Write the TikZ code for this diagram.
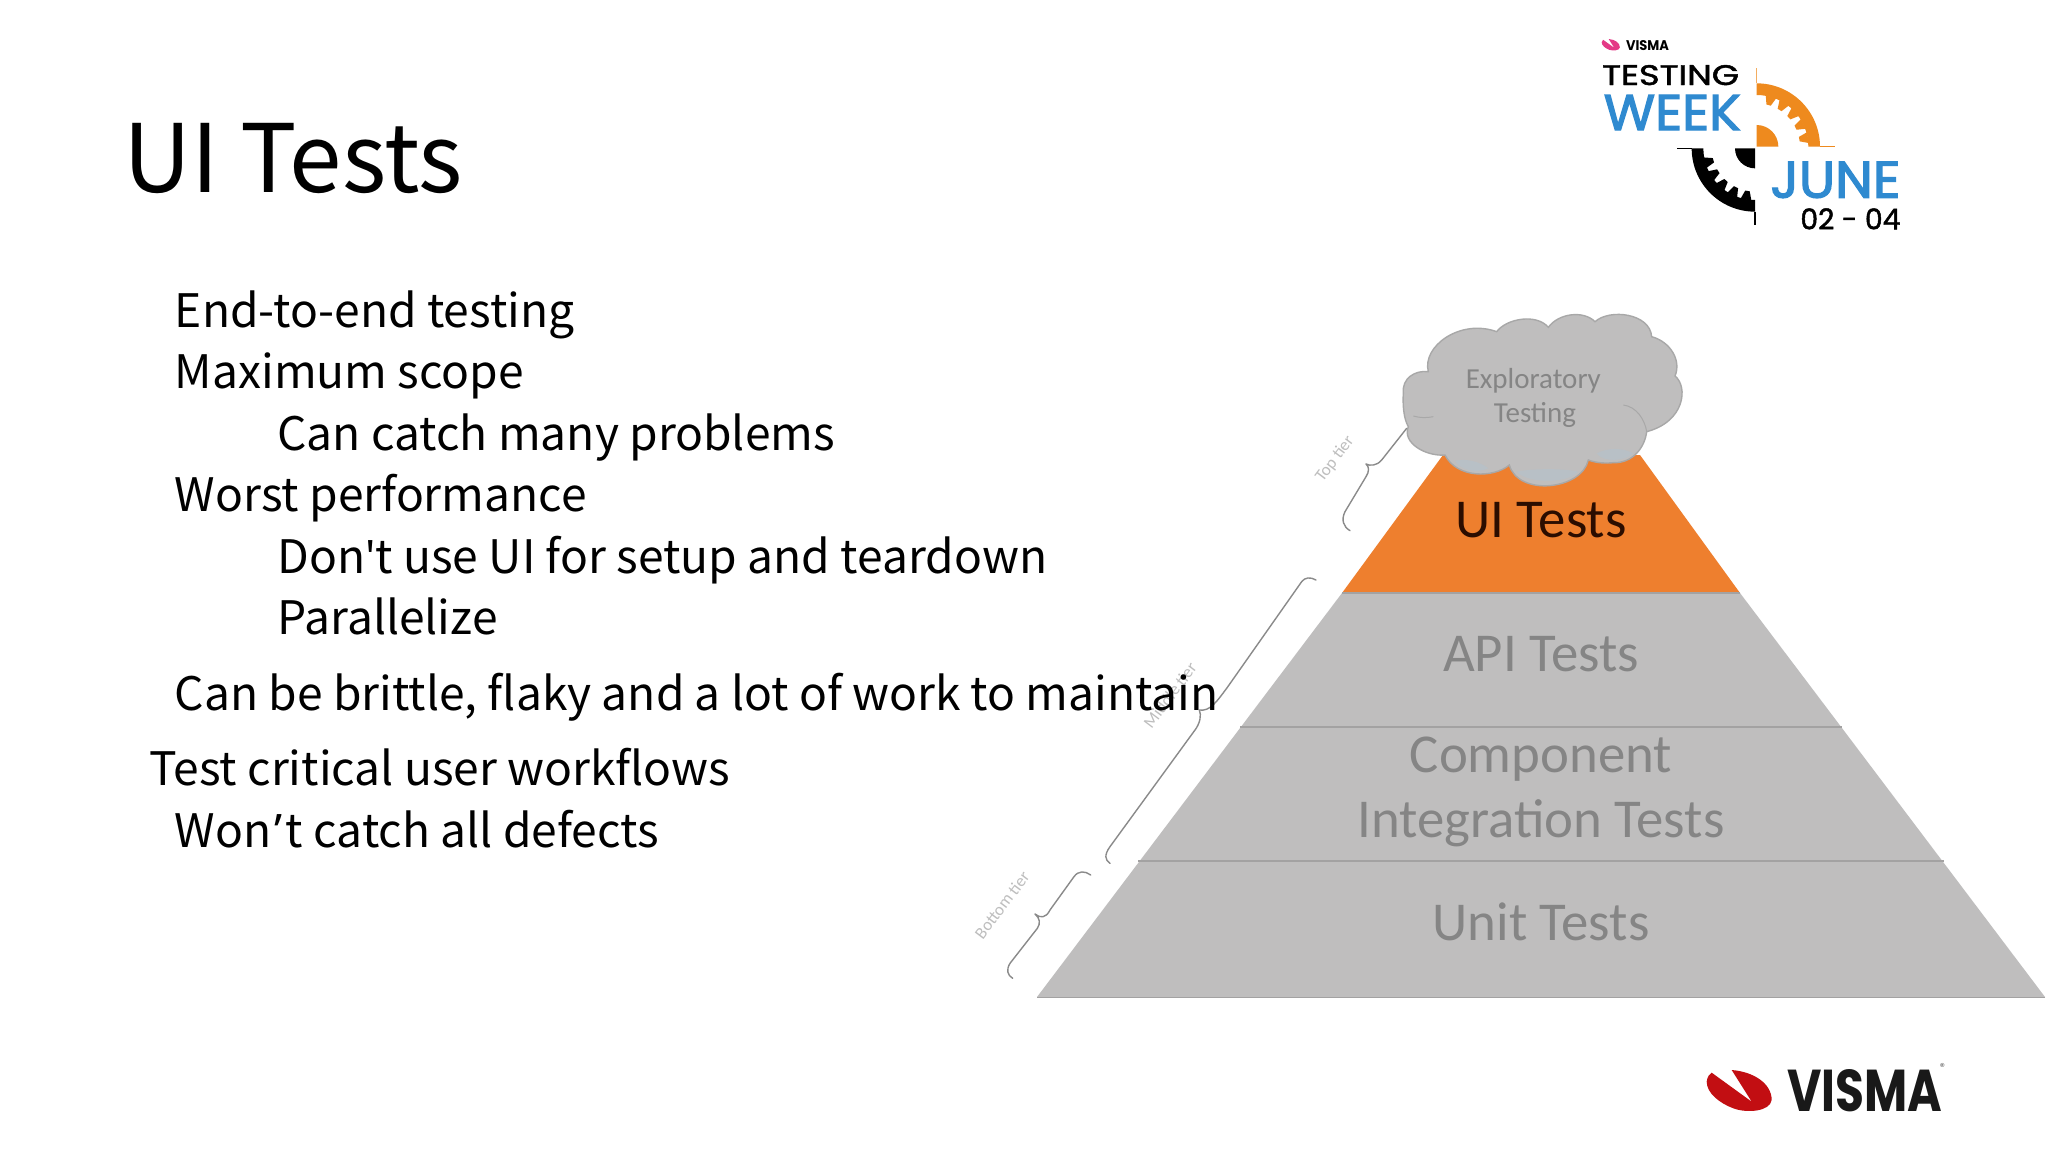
\documentclass[tikz,border=0pt]{standalone}
\usepackage{fontspec}
\usepackage{graphicx}
\setmainfont{Noto Sans CJK SC}
\newfontfamily\aposfont{Noto Sans}
\newfontfamily\pyrfont{Carlito}
\newfontfamily\logofont{Poppins}
\newfontfamily\logomed[FakeBold=1.6]{Poppins}
\newfontfamily\logoblue[FakeBold=2.4]{Poppins}
\definecolor{pyrgray}{HTML}{BFBEBE}
\definecolor{pyrline}{HTML}{A3A2A2}
\definecolor{pyrtext}{HTML}{858585}
\definecolor{uiorange}{HTML}{EE7F2E}
\definecolor{uidark}{HTML}{2B0D00}
\definecolor{cloudedge}{HTML}{A8A8A8}
\definecolor{cloudblue}{HTML}{B8C0C6}
\definecolor{braceg}{HTML}{8A8A8A}
\definecolor{tierg}{HTML}{BEBEBE}
\definecolor{gearor}{HTML}{EE8A1E}
\definecolor{lblue}{HTML}{2F8AD0}
\definecolor{vismared}{HTML}{C20E12}
\definecolor{vismapink}{HTML}{E43A86}
\tikzset{
  bodytext/.style={anchor=base west,inner sep=0pt,font=\fontsize{23.07}{28}\selectfont,text=black},
  pyrlabel/.style={anchor=center,inner sep=0pt,font=\pyrfont\fontsize{27.4}{32}\selectfont,text=pyrtext},
  tierlabel/.style={anchor=center,inner sep=0pt,font=\pyrfont\fontsize{8.5}{10}\selectfont,text=tierg,rotate=53},
  bracepath/.style={draw=braceg,line width=0.7pt,line cap=round,line join=round},
  logotext/.style={anchor=base west,inner sep=0pt},
  divider/.style={draw=pyrline,line width=0.8pt}
}
\newcommand{\swooshpath}{(155,90) .. controls (220,95) and (275,130) .. (275,180) .. controls (270,215) and (200,220) .. (160,205) .. controls (120,190) and (80,160) .. (80,125) .. controls (82,110) and (88,102) .. (95,98) -- (215,185) -- cycle}
\begin{document}
\begin{tikzpicture}[x=0.5pt,y=-0.5pt]
\useasboundingbox (0,0) rectangle (2048,1152);
\fill[white] (0,0) rectangle (2048,1152);

% pyramid
\coordinate (pl) at (1037,997);
\coordinate (pr) at (2045,997);
\fill[pyrgray] (pl) -- (1342,593) -- (1740,593) -- (pr) -- cycle;
\fill[uiorange] (1342,593) -- (1443,455) -- (1640,455) -- (1740,593) -- cycle;
\draw[divider] (1342,593) -- (1740,593);
\draw[divider] (1240,727) -- (1842,727);
\draw[divider] (1138,861) -- (1944,861);
\draw[draw=pyrline,line width=0.5pt] (pl) -- (pr);

\node[pyrlabel,text=uidark] (ui) at (1541,520) {UI Tests};
\node[pyrlabel] (api) at (1541,654) {API Tests};
\node[pyrlabel] (comp) at (1541,759) {Component};
\node[pyrlabel] (integ) at (1541,823) {Integration Tests};
\node[pyrlabel] (unit) at (1541,922) {Unit Tests};

% cloud
\begin{scope}[shift={(1280,290)},x=0.5pt/3,y=-0.5pt/3]
\path[fill=pyrgray,draw=cloudedge,line width=0.7pt]
 (370,310) .. controls (365,265) and (405,240) .. (445,245)
 .. controls (425,170) and (540,85) .. (650,125)
 .. controls (680,85) and (770,70) .. (805,112)
 .. controls (835,70) and (910,60) .. (945,95)
 .. controls (990,55) and (1110,70) .. (1115,140)
 .. controls (1170,155) and (1205,210) .. (1185,258)
 .. controls (1225,290) and (1215,395) .. (1100,425)
 .. controls (1095,470) and (1060,520) .. (1000,518)
 .. controls (980,520) and (950,520) .. (925,510)
 .. controls (905,600) and (715,620) .. (688,525)
 .. controls (640,565) and (530,565) .. (495,495)
 .. controls (440,500) and (365,460) .. (385,410)
 .. controls (370,385) and (368,340) .. (370,310) -- cycle;
\fill[cloudblue] (525,512) .. controls (560,505) and (600,515) .. (625,535) .. controls (590,552) and (540,540) .. (525,512) -- cycle;
\fill[cloudblue] (950,490) .. controls (990,470) and (1030,475) .. (1060,490) .. controls (1040,512) and (970,520) .. (950,490) -- cycle;
\fill[cloudblue] (710,545) .. controls (760,535) and (850,535) .. (895,545) .. controls (860,582) and (745,582) .. (710,545) -- cycle;
\draw[draw=cloudedge,line width=0.5pt] (400,378) .. controls (420,384) and (440,384) .. (460,380);
\draw[draw=cloudedge,line width=0.5pt] (1030,345) .. controls (1070,350) and (1095,390) .. (1100,425);
\node[inner sep=0pt,font=\pyrfont\fontsize{14.5}{17}\selectfont,text=pyrtext] (expl) at (760,272) {Exploratory};
\node[inner sep=0pt,font=\pyrfont\fontsize{14.5}{17}\selectfont,text=pyrtext] (test) at (765,375) {Testing};
% top brace
\draw[bracepath] (380,415) -- (305,510) .. controls (290,528) and (270,528) .. (258,522)
  .. controls (268,530) and (268,545) .. (258,560) -- (195,665) .. controls (183,690) and (190,710) .. (210,722);
\end{scope}

\begin{scope}[shift={(950,560)},x=0.5pt/3,y=-0.5pt/3]
% middle brace
\draw[bracepath] (1098,60) .. controls (1080,50) and (1065,52) .. (1055,65) -- (830,385) .. controls (800,425) and (780,455) .. (748,450)
  .. controls (755,465) and (750,490) .. (735,510) -- (480,860) .. controls (462,885) and (465,900) .. (480,910);
% bottom brace
\draw[bracepath] (422,945) .. controls (405,932) and (385,932) .. (372,950) -- (300,1050) .. controls (288,1075) and (270,1075) .. (255,1062)
  .. controls (270,1075) and (272,1090) .. (262,1105) -- (180,1210) .. controls (168,1230) and (172,1245) .. (188,1255);
\end{scope}
\node[tierlabel] (toptier) at (1335,459) {Top tier};
\node[tierlabel] (midtier) at (1170,695) {Middle tier};
\node[tierlabel] (bottier) at (1002,905) {Bottom tier};

% testing week logo
\begin{scope}[shift={(1560,20)},x=0.5pt/3,y=-0.5pt/3]
\begin{scope}[shift={(125,57)},x=0.5pt/3*0.28,y=-0.5pt/3*0.28,shift={(-80,-90)}]
\fill[vismapink] \swooshpath;
\end{scope}
\node[logotext] (tvisma) at (197,92) {\resizebox{21.5pt}{5pt}{\logofont\bfseries VISMA}};
\node[logotext] (testing) at (125,195) {\resizebox{68.5pt}{10pt}{\logomed TESTING}};
\node[logotext,text=lblue] (week) at (130,330) {\resizebox{68.5pt}{17.5pt}{\logoblue WEEK}};
\node[logotext,text=lblue] (june) at (630,533) {\resizebox{65pt}{18pt}{\logoblue JUNE}};
\node[logotext] (dates) at (720,628) {\resizebox{50pt}{10.5pt}{\logomed 02 - 04}};
% orange gear
\begin{scope}[shift={(590,380)}]
\fill[gearor] (-90:190) arc (-90:0:190) -- (0:155) arc (0:-90:155) -- cycle;
\foreach \a in {-74,-58,-42,-26,-10}{\fill[gearor] (\a-6:157) -- (\a-3:130) -- (\a+3:130) -- (\a+6:157) -- cycle;}
\fill[gearor] (0,0) -- (-90:65) arc (-90:0:65) -- cycle;
\draw[gearor!70,line width=0.8pt] (0,-235) -- (0,-190);
\draw[gearor,line width=0.8pt] (190,0) -- (235,0);
\end{scope}
% black gear
\begin{scope}[shift={(585,385)}]
\fill[black] (90:190) arc (90:180:190) -- (180:155) arc (180:90:155) -- cycle;
\foreach \a in {100,116,132,148,164}{\fill[black] (\a-6:157) -- (\a-3:130) -- (\a+3:130) -- (\a+6:157) -- cycle;}
\fill[black] (0,0) -- (90:60) arc (90:180:60) -- cycle;
\draw[black,line width=0.8pt] (0,190) -- (0,230);
\draw[black,line width=0.8pt] (-190,0) -- (-235,0);
\end{scope}
\end{scope}

% visma logo
\begin{scope}[shift={(1680,1040)},x=0.5pt/3,y=-0.5pt/3]
\fill[vismared] \swooshpath;
\node[logotext,text=black!90] (vis) at (320,215) {\resizebox{77.5pt}{21pt}{\logofont\bfseries VISMA}};
\node[inner sep=0pt,font=\logofont\fontsize{5}{6}\selectfont,text=black!60] (reg) at (787,82) {®};
\end{scope}

% slide text
\node[anchor=base west,inner sep=0pt,font=\fontsize{47.2}{56}\selectfont] (title) at (123,192) {UI Tests};
\node[bodytext] (l1) at (174.5,327) {End-to-end testing};
\node[bodytext] (l2) at (174.5,388) {Maximum scope};
\node[bodytext] (l3) at (277,450) {Can catch many problems};
\node[bodytext] (l4) at (174.5,511) {Worst performance};
\node[bodytext] (l5) at (277,573) {Don{\aposfont\char"27}t use UI for setup and teardown};
\node[bodytext] (l6) at (277,634) {Parallelize};
\node[bodytext] (l7) at (174.5,710) {Can be brittle, flaky and a lot of work to maintain};
\node[bodytext] (l8) at (149,785) {Test critical user workflows};
\node[bodytext] (l9) at (174.5,847) {Won\hspace{1.6pt}{\aposfont ’}\hspace{1.6pt}t catch all defects};
\end{tikzpicture}
\end{document}
